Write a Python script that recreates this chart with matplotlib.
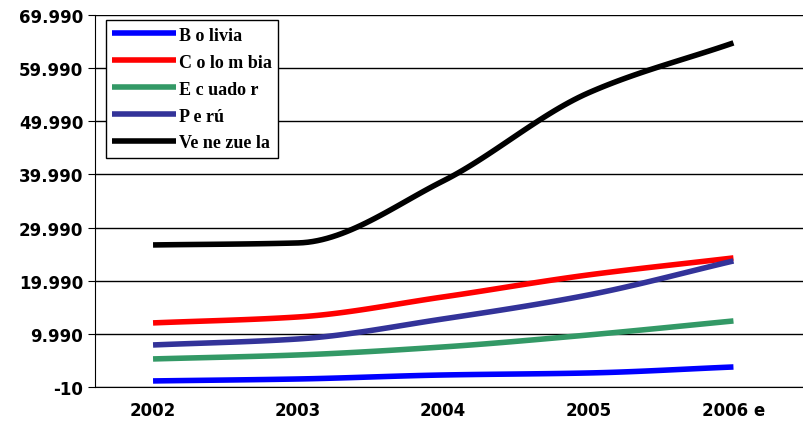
import matplotlib.pyplot as plt
import numpy as np

years = ["2002", "2003", "2004", "2005", "2006 e"]
bolivia = [1130, 1500, 2250, 2630, 3760]
colombia = [12050, 13170, 16940, 21080, 24280]
ecuador = [5270, 6020, 7530, 9780, 12420]
peru = [7900, 9030, 12800, 17310, 23710]
venezuela = [26720, 27100, 38770, 55330, 64740]

series = [("B o livia", bolivia, "#0000ff"),
          ("C o lo m bia", colombia, "#ff0000"),
          ("E c uado r", ecuador, "#339966"),
          ("P e rú", peru, "#333399"),
          ("Ve ne zue la", venezuela, "#000000")]


def smooth(y, n=30):
	# monotone cubic (no overshoot) for the smoothed look
	y = np.asarray(y, float)
	d = np.diff(y)
	m = np.empty_like(y)
	m[0], m[-1] = d[0], d[-1]
	for i in range(1, len(y) - 1):
		a, b = d[i - 1], d[i]
		m[i] = 2 / (1 / a + 1 / b) if a * b > 0 else 0.0
	xs, ys = [], []
	for i in range(len(y) - 1):
		t = np.linspace(0, 1, n, endpoint=False)
		h00 = 2 * t ** 3 - 3 * t ** 2 + 1
		h10 = t ** 3 - 2 * t ** 2 + t
		h01 = -2 * t ** 3 + 3 * t ** 2
		h11 = t ** 3 - t ** 2
		xs.append(i + t)
		ys.append(h00 * y[i] + h10 * m[i] + h01 * y[i + 1] + h11 * m[i + 1])
	xs.append([len(y) - 1])
	ys.append([y[-1]])
	return np.concatenate(xs), np.concatenate(ys)


fig = plt.figure(figsize=(8.04, 4.31), dpi=100)
ax = fig.add_axes([95 / 804, 1 - 388 / 431, 711 / 804, 372 / 431])
for name, vals, col in series:
	sx, sy = smooth(vals)
	ax.plot(sx, sy, color=col, linewidth=4, label=name, solid_capstyle="butt")

ticks = np.arange(-10, 70000, 10000)
ax.set_yticks(ticks)
ax.set_yticklabels([f"{t:,}".replace(",", ".") for t in ticks], fontweight="bold", fontsize=12)
ax.set_ylim(-10, 69990)
ax.set_xlim(-0.4, 4.5)
ax.set_xticks(range(5))
ax.set_xticklabels(years, fontweight="bold", fontsize=12)
ax.yaxis.grid(True, color="black", linewidth=1)
ax.set_axisbelow(True)
for s in ["top", "right"]:
	ax.spines[s].set_visible(False)
ax.tick_params(axis="x", length=0, pad=10)
ax.tick_params(axis="y", length=5)
leg = ax.legend(loc="upper left", bbox_to_anchor=(0.008, 1.0), frameon=True, fancybox=False,
                framealpha=1, edgecolor="black", handlelength=3.5, handletextpad=0.2,
                prop={"family": "Liberation Serif", "weight": "bold", "size": 13},
                labelspacing=0.55, borderaxespad=0.3, borderpad=0.35)
leg.get_frame().set_linewidth(1)
fig.savefig("out.png", dpi=100)
